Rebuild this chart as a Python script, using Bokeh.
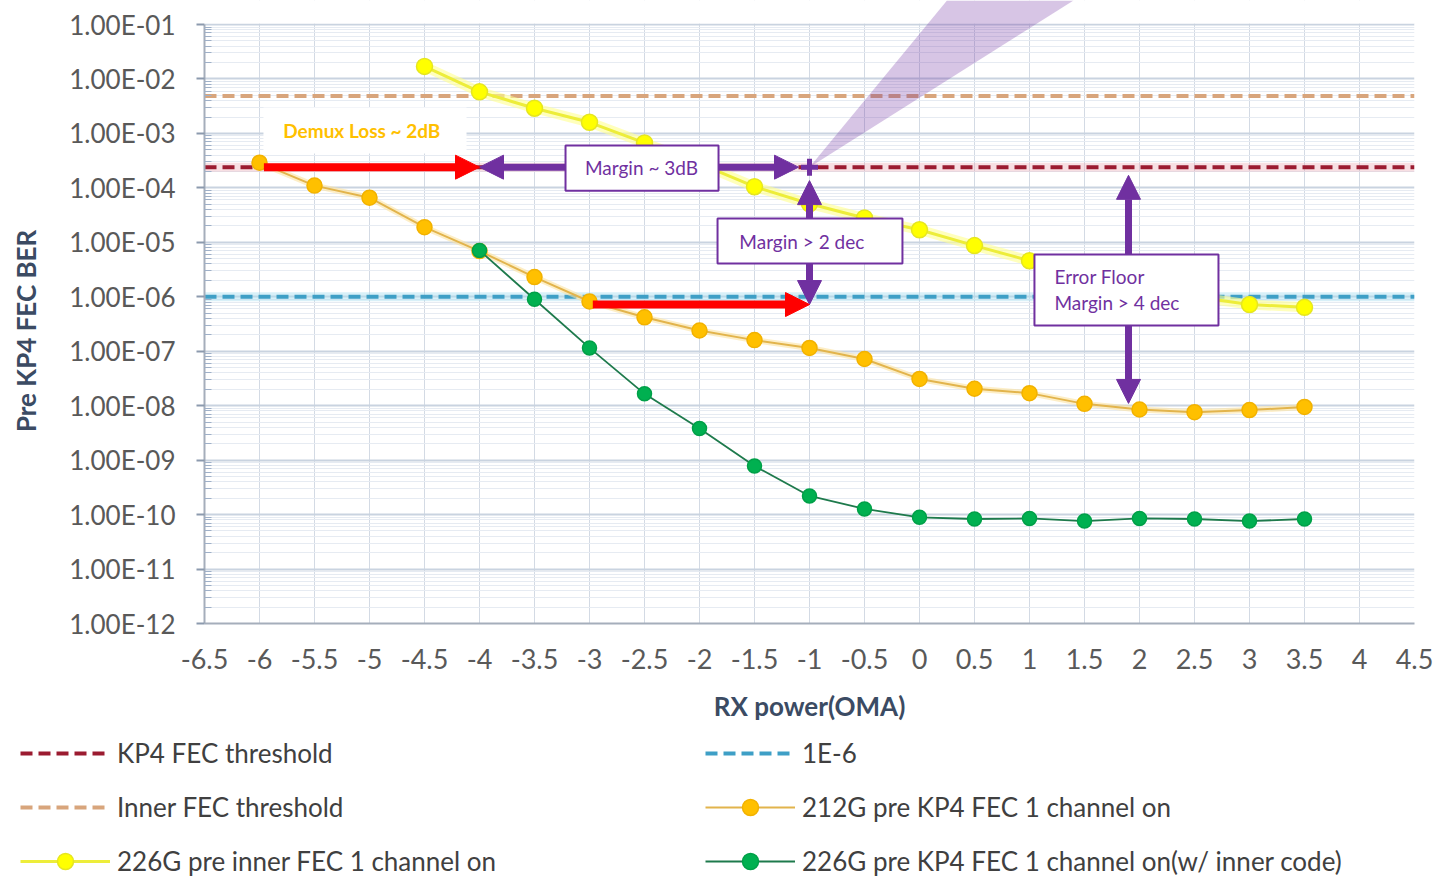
from bokeh.plotting import figure
from bokeh.layouts import column
from bokeh.models import (FixedTicker, Legend, LegendItem, BoxAnnotation, Label,
                          Arrow, NormalHead, PolyAnnotation, Range1d)
from bokeh.embed import file_html
from bokeh.resources import INLINE

# ---------------- data ----------------
rx_226g_inner = [-4.5, -4, -3.5, -3, -2.5, -2, -1.5, -1, -0.5, 0, 0.5, 1, 1.5, 2, 2.5, 3, 3.5]
ber_226g_inner = [1.7e-2, 5.8e-3, 2.9e-3, 1.6e-3, 6.7e-4, 2.8e-4, 1.05e-4, 5.1e-5, 2.8e-5,
                  1.7e-5, 8.7e-6, 4.6e-6, 2.6e-6, 1.6e-6, 1.0e-6, 7.2e-7, 6.4e-7]

rx_212g_kp4 = [-6, -5.5, -5, -4.5, -4, -3.5, -3, -2.5, -2, -1.5, -1, -0.5, 0, 0.5, 1, 1.5, 2,
               2.5, 3, 3.5]
ber_212g_kp4 = [2.9e-4, 1.1e-4, 6.6e-5, 1.9e-5, 6.9e-6, 2.3e-6, 8.2e-7, 4.2e-7, 2.4e-7, 1.6e-7,
                1.15e-7, 7.2e-8, 3.1e-8, 2.05e-8, 1.7e-8, 1.08e-8, 8.5e-9, 7.6e-9, 8.3e-9, 9.5e-9]

rx_226g_kp4 = [-4, -3.5, -3, -2.5, -2, -1.5, -1, -0.5, 0, 0.5, 1, 1.5, 2, 2.5, 3, 3.5]
ber_226g_kp4 = [7.1e-6, 9.0e-7, 1.15e-7, 1.65e-8, 3.8e-9, 7.8e-10, 2.2e-10, 1.27e-10, 8.9e-11,
                8.3e-11, 8.5e-11, 7.6e-11, 8.5e-11, 8.3e-11, 7.6e-11, 8.3e-11]

kp4_threshold = 2.4e-4
inner_threshold = 4.85e-3
ber_1e6 = 1e-6

x_ticks = [-6.5, -6, -5.5, -5, -4.5, -4, -3.5, -3, -2.5, -2, -1.5, -1, -0.5, 0, 0.5, 1, 1.5, 2,
           2.5, 3, 3.5, 4, 4.5]
x_tick_labels = ["-6.5", "-6", "-5.5", "-5", "-4.5", "-4", "-3.5", "-3", "-2.5", "-2", "-1.5",
                 "-1", "-0.5", "0", "0.5", "1", "1.5", "2", "2.5", "3", "3.5", "4", "4.5"]
y_ticks = [1e-1, 1e-2, 1e-3, 1e-4, 1e-5, 1e-6, 1e-7, 1e-8, 1e-9, 1e-10, 1e-11, 1e-12]
y_tick_labels = ["1.00E-01", "1.00E-02", "1.00E-03", "1.00E-04", "1.00E-05", "1.00E-06",
                 "1.00E-07", "1.00E-08", "1.00E-09", "1.00E-10", "1.00E-11", "1.00E-12"]
y_minor_ticks = [m * d for d in y_ticks[1:] for m in range(2, 10)]

X_MIN, X_MAX = -6.5, 4.5
Y_MIN, Y_MAX = 1e-12, 1e-1
Y_TOP = 0.276          # frame extends a little above the axis so the callout wedge can reach the top

PURPLE = "#7030A0"
RED = "#FF0000"
FONT = "Lato"

# ---------------- main figure ----------------
p = figure(width=1435, height=725, x_range=(X_MIN, X_MAX), y_range=(Y_MIN, Y_TOP),
           y_axis_type="log", output_backend="svg", toolbar_location=None,
           min_border_left=204, min_border_right=21, min_border_top=0, min_border_bottom=102)
p.outline_line_color = None
p.background_fill_color = "white"
p.border_fill_color = "white"

p.xaxis.ticker = FixedTicker(ticks=x_ticks)
p.xaxis.major_label_overrides = dict(zip(x_ticks, x_tick_labels))
p.yaxis.ticker = FixedTicker(ticks=y_ticks, minor_ticks=y_minor_ticks)
p.yaxis.major_label_overrides = dict(zip(y_ticks, y_tick_labels))
p.yaxis.bounds = (Y_MIN, Y_MAX)

for ax in (p.xaxis[0], p.yaxis[0]):
    ax.major_label_text_font = FONT
    ax.major_label_text_color = "#595959"
    ax.axis_label_text_font = FONT
    ax.axis_label_text_font_style = "bold"
    ax.axis_label_text_color = "#3B4B63"
    ax.axis_label_text_font_size = "26px"
    ax.axis_line_color = "#A5AEBB"
    ax.axis_line_width = 2

p.xaxis.axis_label = "RX power(OMA)"
p.xaxis.major_label_text_font_size = "27px"
p.xaxis.major_tick_out = 0
p.xaxis.major_tick_in = 0
p.xaxis.minor_tick_out = 0
p.xaxis.major_label_standoff = 25
p.xaxis.axis_label_standoff = 18

# trailing no-break spaces re-centre the rotated title on the 1E-01..1E-12 span
p.yaxis.axis_label = "Pre KP4 FEC BER" + "\u00a0" * 6
p.yaxis.major_label_text_font_size = "26px"
p.yaxis.major_tick_out = 8
p.yaxis.major_tick_in = 0
p.yaxis.major_tick_line_color = "#8C9AAE"
p.yaxis.major_tick_line_width = 2
p.yaxis.minor_tick_in = 7
p.yaxis.minor_tick_out = 0
p.yaxis.minor_tick_line_color = "#9FB0C8"
p.yaxis.major_label_standoff = 21
p.yaxis.axis_label_standoff = 24

p.xgrid.grid_line_color = "#D3DAE4"
p.xgrid.grid_line_width = 1
p.ygrid.grid_line_color = "#C9D3E0"
p.ygrid.grid_line_width = 2
p.ygrid.minor_grid_line_color = "#E6EBF2"
p.ygrid.minor_grid_line_width = 1

# blank the strip above the 1E-01 line (grid stops at the axis top, as in the reference)
p.add_layout(BoxAnnotation(bottom=Y_MAX * 1.04, fill_color="white", fill_alpha=1.0,
                           line_color=None))

# callout wedge
p.add_layout(PolyAnnotation(xs=[-1.0, 0.25, 1.4], ys=[kp4_threshold, Y_TOP, Y_TOP],
                            xs_units="data", ys_units="data", fill_color=PURPLE,
                            fill_alpha=0.28, line_color=None))

# threshold lines
xs_full = [X_MIN, X_MAX]
p.line(xs_full, [kp4_threshold] * 2, line_color="#E9A3AE", line_width=9, line_alpha=0.35)
p.line(xs_full, [ber_1e6] * 2, line_color="#A9DDF0", line_width=9, line_alpha=0.45)
styles = dict(
    kp4=dict(line_color="#9B1B30", line_width=4, line_dash="12 6"),
    inner=dict(line_color="#D8A57C", line_width=4, line_dash="12 6"),
    e6=dict(line_color="#3E9FC6", line_width=4, line_dash="12 6"),
    y_line=dict(line_color="#EDED3A", line_width=3),
    y_pts=dict(marker="circle", size=16, fill_color="#FFFF00", line_color="#E6E620",
               line_width=1.5),
    o_line=dict(line_color="#E2B44C", line_width=2),
    o_pts=dict(marker="circle", size=15, fill_color="#FFC000", line_color="#F2B200",
               line_width=1.5),
    g_line=dict(line_color="#1E7A4C", line_width=1.8),
    g_pts=dict(marker="circle", size=14, fill_color="#00B050", line_color="#00A048",
               line_width=1.5),
)
p.line(xs_full, [kp4_threshold] * 2, **styles["kp4"])
p.line(xs_full, [inner_threshold] * 2, **styles["inner"])
p.line(xs_full, [ber_1e6] * 2, **styles["e6"])

# series
p.line(rx_226g_inner, ber_226g_inner, line_color="#FFFF90", line_width=10, line_alpha=0.6)
p.line(rx_226g_inner, ber_226g_inner, **styles["y_line"])
p.scatter(rx_226g_inner, ber_226g_inner, **styles["y_pts"])

p.line(rx_212g_kp4, ber_212g_kp4, line_color="#FBE3A0", line_width=6, line_alpha=0.6)
p.line(rx_212g_kp4, ber_212g_kp4, **styles["o_line"])
p.scatter(rx_212g_kp4, ber_212g_kp4, **styles["o_pts"])

p.line(rx_226g_kp4, ber_226g_kp4, **styles["g_line"])
p.scatter(rx_226g_kp4, ber_226g_kp4, **styles["g_pts"])

p.scatter([-1.0], [kp4_threshold], marker="cross", size=17, line_width=5, line_color=PURPLE)

# ---------------- annotations ----------------
def head(color):
    return NormalHead(size=24, fill_color=color, line_color=color, line_width=1)

arrows = [
    dict(x_start=-4.0, y_start=kp4_threshold, x_end=-1.1, y_end=kp4_threshold, color=PURPLE,
         w=7, both=True),
    dict(x_start=-1.0, y_start=1.36e-4, x_end=-1.0, y_end=7.2e-7, color=PURPLE, w=7, both=True),
    dict(x_start=1.9, y_start=1.7e-4, x_end=1.9, y_end=1.1e-8, color=PURPLE, w=7, both=True),
    dict(x_start=-5.96, y_start=kp4_threshold, x_end=-4.0, y_end=kp4_threshold, color=RED,
         w=8, both=False),
    dict(x_start=-2.97, y_start=7.2e-7, x_end=-1.0, y_end=7.2e-7, color=RED, w=8, both=False),
]
for a in arrows:
    p.add_layout(Arrow(x_start=a["x_start"], y_start=a["y_start"], x_end=a["x_end"],
                       y_end=a["y_end"], line_color=a["color"], line_width=a["w"],
                       start=head(a["color"]) if a["both"] else None, end=head(a["color"])))

boxes = [
    dict(left=-5.964, right=-4.118, top=2.99e-3, bottom=4.27e-4, border=None),
    dict(left=-3.218, right=-1.827, top=6.0e-4, bottom=8.9e-5, border=PURPLE),
    dict(left=-1.836, right=-0.155, top=2.74e-5, bottom=4.08e-6, border=PURPLE),
    dict(left=1.045, right=2.718, top=5.97e-6, bottom=2.96e-7, border=PURPLE),
]
for b in boxes:
    p.add_layout(BoxAnnotation(left=b["left"], right=b["right"], top=b["top"],
                               bottom=b["bottom"], fill_color="white", fill_alpha=1.0,
                               line_color=b["border"], line_width=2, line_alpha=1.0))

labels = [
    dict(x=-5.07, y=1.13e-3, text="Demux Loss ~ 2dB", color="#FFC000", style="bold",
         align="center"),
    dict(x=-2.527, y=kp4_threshold, text="Margin ~ 3dB", color=PURPLE, style="normal",
         align="center"),
    dict(x=-1.07, y=1.04e-5, text="Margin > 2 dec", color=PURPLE, style="normal",
         align="center"),
    dict(x=1.227, y=2.36e-6, text="Error Floor", color=PURPLE, style="normal", align="left"),
    dict(x=1.227, y=7.8e-7, text="Margin > 4 dec", color=PURPLE, style="normal",
         align="left"),
]
for l in labels:
    p.add_layout(Label(x=l["x"], y=l["y"], text=l["text"], text_color=l["color"],
                       text_font=FONT, text_font_size="19px", text_font_style=l["style"],
                       text_align=l["align"], text_baseline="middle"))

# ---------------- legend strip (second figure, same styles) ----------------
lp = figure(width=1435, height=153, x_range=Range1d(0, 1), y_range=Range1d(0, 1),
            output_backend="svg", toolbar_location=None, min_border=0,
            min_border_left=0, min_border_right=0, min_border_top=0, min_border_bottom=0)
if "frame_align" in lp.properties():
    lp.frame_align = False
    p.frame_align = False
lp.xaxis.visible = False
lp.yaxis.visible = False
lp.grid.visible = False
lp.outline_line_color = None
lp.background_fill_color = "white"
lp.border_fill_color = "white"

# legend proxies: first point of each series (lies outside this strip's ranges, so unseen)
series_first = dict(
    kp4=([X_MIN], [kp4_threshold]), inner=([X_MIN], [inner_threshold]), e6=([X_MIN], [ber_1e6]),
    y_line=(rx_226g_inner[:1], ber_226g_inner[:1]), y_pts=(rx_226g_inner[:1], ber_226g_inner[:1]),
    o_line=(rx_212g_kp4[:1], ber_212g_kp4[:1]), o_pts=(rx_212g_kp4[:1], ber_212g_kp4[:1]),
    g_line=(rx_226g_kp4[:1], ber_226g_kp4[:1]), g_pts=(rx_226g_kp4[:1], ber_226g_kp4[:1]),
)

def legend_renderers(*keys):
    rs = []
    for k in keys:
        st = dict(styles[k])
        xs, ys = series_first[k]
        if "marker" in st:
            rs.append(lp.scatter(x=list(xs), y=list(ys), **st))
        else:
            rs.append(lp.line(x=list(xs), y=list(ys), **st))
    return rs

def make_legend(items, loc):
    return Legend(items=items, location=loc, orientation="vertical",
                  label_text_font=FONT, label_text_font_size="26px",
                  label_text_color="#404040", glyph_width=90, glyph_height=40,
                  label_height=24, label_standoff=7, spacing=14, padding=0, margin=0,
                  border_line_color=None, background_fill_alpha=0.0)

leg1 = make_legend([
    LegendItem(label="KP4 FEC threshold", renderers=legend_renderers("kp4")),
    LegendItem(label="Inner FEC threshold", renderers=legend_renderers("inner")),
    LegendItem(label="226G pre inner FEC 1 channel on",
               renderers=legend_renderers("y_line", "y_pts")),
], (20, -3))
leg2 = make_legend([
    LegendItem(label="1E-6", renderers=legend_renderers("e6")),
    LegendItem(label="212G pre KP4 FEC 1 channel on",
               renderers=legend_renderers("o_line", "o_pts")),
    LegendItem(label="226G pre KP4 FEC 1 channel on(w/ inner code)",
               renderers=legend_renderers("g_line", "g_pts")),
], (705, -3))
lp.add_layout(leg1, "center")
lp.add_layout(leg2, "center")

layout = column(p, lp, spacing=0)
open("out.html", "w").write(file_html(layout, INLINE))
